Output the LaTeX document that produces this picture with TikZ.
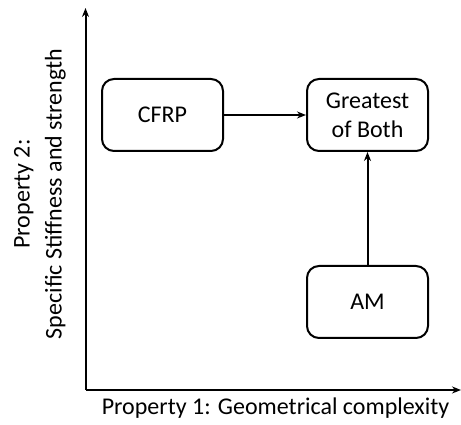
\documentclass[tikz,border=0pt]{standalone}
\usepackage{fontspec}
\setmainfont{Carlito}
\usetikzlibrary{arrows.meta,positioning}
\definecolor{ink}{HTML}{000000}
\tikzset{
  axislabel/.style={font=\fontsize{24}{32}\selectfont,text=ink,align=center},
  box/.style={rounded corners=12pt,draw=ink,fill=white,line width=2pt,minimum width=121pt,minimum height=72pt,font=\fontsize{24}{29}\selectfont,align=center},
  axis/.style={-{Stealth[length=9pt,width=7pt]},draw=ink,line width=2pt},
  arr/.style={-{Stealth[length=9pt,width=7pt]},draw=ink,line width=2pt}
}
\begin{document}
\begin{tikzpicture}[x=1pt,y=1pt]
\path[use as bounding box] (0,0) rectangle (461,425);
\coordinate (o) at (85.5,35);
\coordinate (ytop) at (85.5,417);
\coordinate (xend) at (461,35);
\draw[axis] (o)--(ytop);
\draw[axis] (o)--(xend);
\node[axislabel] (xl) at (275.5,17) {Property 1: Geometrical complexity};
\node[axislabel,rotate=90] (yl) at (40,231) {Property 2:\\Specific Stiffness and strength};

\node[box] (cfrp) at (162.5,310) {CFRP};
\node[box] (both) at (367.5,310) {Greatest\\of Both};
\node[box] (am) at (367.5,123) {AM};
\draw[arr] (cfrp)--(both); \draw[arr] (am)--(both);
\end{tikzpicture}
\end{document}
